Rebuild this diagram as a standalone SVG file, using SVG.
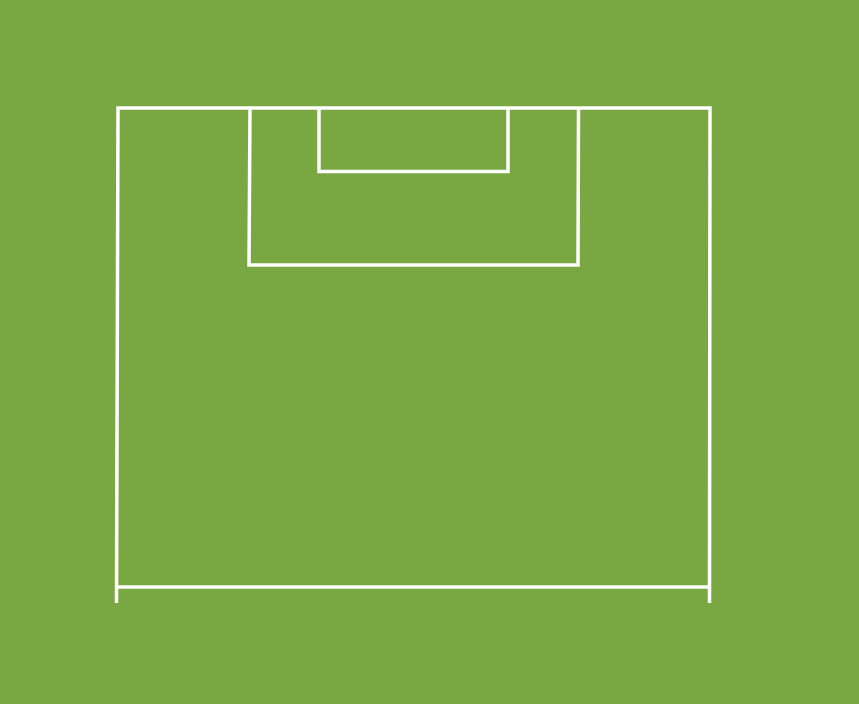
<svg xmlns="http://www.w3.org/2000/svg" width="859" height="704" viewBox="0 0 859 704">
<style>.l{fill:none;stroke:#ffffff;stroke-width:3.5;stroke-linecap:butt;stroke-linejoin:miter}</style>
<rect width="859" height="704" fill="#79a842"/>
<g id="pitch">
<path class="l" d="M116.5,603 L118,108 L710,108 L709.5,603"/>
<path class="l" d="M116.5,587 L709.5,587"/>
</g>
<g id="penalty-box">
<path class="l" d="M250,108 L249,265 L578,265 L578.5,108"/>
</g>
<g id="goal-box">
<path class="l" d="M319,108 L319,171.5 L508,171.5 L508,108"/>
</g>
</svg>
